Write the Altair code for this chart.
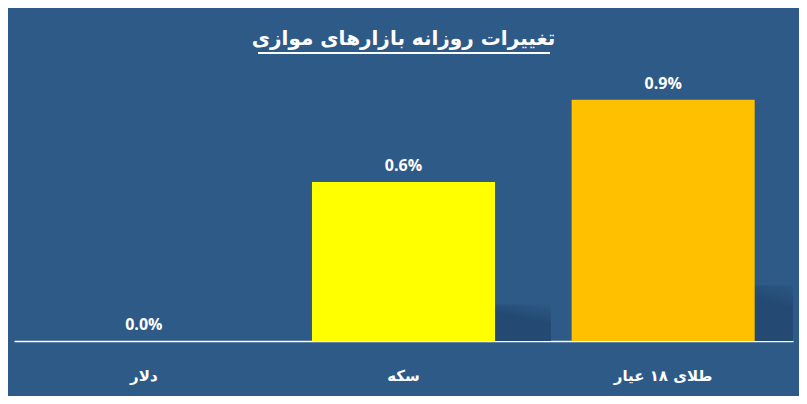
import altair as alt
import pandas as pd

# ---- data ----
title_text = "تغییرات روزانه بازارهای موازی"
categories = ["دلار", "سکه", "طلای ۱۸ عیار"]
values = [0.0, 0.60, 0.91]
value_labels = ["0.0%", "0.6%", "0.9%"]
bar_colors = ["#FFFF00", "#FFFF00", "#FFC000"]

BG = "#2D5A87"

df = pd.DataFrame({
    "cat": categories,
    "value": values,
    "label": value_labels,
    "color": bar_colors,
})

x = alt.X(
    "cat:N",
    sort=categories,
    scale=alt.Scale(paddingInner=0.295, paddingOuter=0.1475),
    axis=alt.Axis(
        title=None, labelAngle=0, ticks=False, grid=False,
        domainColor="white", domainWidth=1.5,
        labelColor="white", labelFont="DejaVu Sans", labelFontWeight="bold",
        labelFontSize=15, labelPadding=27,
    ),
)
y = alt.Y("value:Q", scale=alt.Scale(domain=[0, 1.06], nice=False, zero=True), axis=None)

base = alt.Chart(df)

shadow_grad = alt.LinearGradient(
    gradient="linear", x1=0, y1=1, x2=1, y2=0,
    stops=[
        alt.GradientStop(offset=0, color="#244A73"),
        alt.GradientStop(offset=0.74, color="#244A73"),
        alt.GradientStop(offset=1, color=BG),
    ],
)

shadow = base.transform_calculate(sh="datum.value * 0.23").mark_bar(
    color=shadow_grad, xOffset=56, clip=True
).encode(x=x, y=alt.Y("sh:Q", scale=alt.Scale(domain=[0, 1.06], nice=False), axis=None))

bars = base.mark_bar().encode(
    x=x, y=y, color=alt.Color("color:N", scale=None, legend=None)
)

text = base.mark_text(
    dy=-16, baseline="middle", color="white", font="Open Sans", fontWeight="bold", fontSize=16
).encode(x=x, y=y, text="label:N")

underline = alt.Chart(df).mark_rule(color="white", strokeWidth=1.5).encode(
    x=alt.value(244), x2=alt.value(536), y=alt.value(-7)
)

chart = alt.layer(shadow, bars, text, underline).properties(
    width=779,
    height=281,
    background=BG,
    padding={"left": 6, "top": 52, "right": 6, "bottom": 55},
    autosize=alt.AutoSizeParams(type="none"),
    title=alt.TitleParams(
        text=title_text, color="white", font="DejaVu Sans", fontWeight="bold",
        fontSize=20, anchor="middle", offset=3,
    ),
).configure_view(stroke=None)

chart.save("out.html", embed_options={"renderer": "svg", "actions": False})
